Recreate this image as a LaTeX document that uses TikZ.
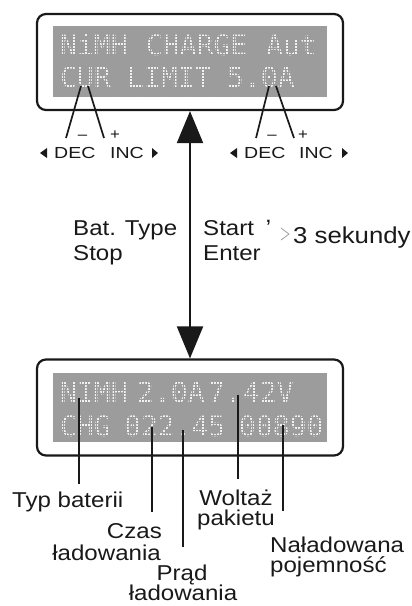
\documentclass[tikz,border=0pt]{standalone}
\usepackage{fontspec}
\setmainfont{Liberation Sans}
\newfontfamily\labfont[FakeStretch=1.12]{Liberation Sans}
\newfontfamily\keyfont[FakeStretch=1.22]{Liberation Sans}
\newfontfamily\lcdfont{DejaVu Sans Mono}
\usetikzlibrary{arrows.meta}
\definecolor{lcdgray}{RGB}{156,156,156}
\definecolor{lcdink}{RGB}{242,242,242}
\definecolor{ink}{RGB}{25,25,25}
\begin{document}
\begin{tikzpicture}[x=1pt,y=-1pt,
  frame/.style={draw=ink, line width=2.2pt, rounded corners=9pt,
    minimum width=306pt, minimum height=96pt, inner sep=0pt},
  lcdtext/.style={font=\lcdfont\fontsize{28}{28}\selectfont, text=lcdink,
    anchor=base west, inner sep=0pt},
  lab/.style={font=\labfont\fontsize{21.5}{21.5}\selectfont, text=ink, inner sep=0pt},
  biglab/.style={font=\labfont\fontsize{23}{23}\selectfont, text=ink, inner sep=0pt},
  keylab/.style={font=\keyfont\fontsize{16}{16}\selectfont, text=ink,
    inner sep=0pt, anchor=base west},
  signlab/.style={font=\labfont\fontsize{15}{15}\selectfont, text=ink, inner sep=0pt},
  callout/.style={draw=ink, line width=1.7pt},
  lcddots/.style={draw=lcdgray, line width=1pt},
  keymark/.style={fill=ink}
]
\useasboundingbox (0,0) rectangle (412,606);
\fill[white] (0,0) rectangle (412,606);

% ---------- upper display ----------
\node[frame] (topbox) at (190,62) {};
\fill[lcdgray] (53,26) rectangle (327,97);
\node[lcdtext] (t11) at (60,55) {NiMH};
\node[lcdtext] (t12) at (146,55) {CHARGE};
\node[lcdtext] (t13) at (266,55) {Aut};
\node[lcdtext] (t21) at (60,87) {CUR};
\node[lcdtext] (t22) at (127,87) {LIMIT};
\node[lcdtext] (t23) at (227,87) {5.0A};
\begin{scope}
  \clip (53,26) rectangle (327,97);
  \draw[lcddots, step=3pt] (53,26) grid (327,97);
\end{scope}

% ---------- lower display ----------
\node[frame] (botbox) at (190,407.5) {};
\fill[lcdgray] (53,373) rectangle (327,442);
\node[lcdtext] (b11) at (60,402) {NIMH};
\node[lcdtext] (b12) at (137,402) {2.0A};
\node[lcdtext] (b13) at (208,402) {7.};
\node[lcdtext] (b14) at (243,402) {42V};
\node[lcdtext] (b21) at (60,436) {CHG};
\node[lcdtext] (b22) at (124,436) {022.45};
\node[lcdtext] (b23) at (239,436) {00890};
\begin{scope}
  \clip (53,373) rectangle (327,442);
  \draw[lcddots, step=3pt] (53,373) grid (327,442);
\end{scope}

% ---------- key hints under the upper display ----------
\coordinate (decAtop) at (81,86);  \coordinate (decAend) at (66,138);
\coordinate (incAtop) at (88,86);  \coordinate (incAend) at (104,138);
\coordinate (decBtop) at (269,86); \coordinate (decBend) at (256,138);
\coordinate (incBtop) at (276,86); \coordinate (incBend) at (294,138);
\draw[callout] (decAtop) -- (decAend);
\draw[callout] (incAtop) -- (incAend);
\draw[callout] (decBtop) -- (decBend);
\draw[callout] (incBtop) -- (incBend);

\fill[keymark] (40,153) -- (47,148) -- (47,158) -- cycle;
\node[keylab] (decA) at (54,158) {DEC};
\node[signlab] (minusA) at (82.5,137) {–};
\node[signlab] (plusA) at (115,135) {+};
\node[keylab] (incA) at (110,158) {INC};
\fill[keymark] (158,153) -- (152,148) -- (152,158) -- cycle;

\fill[keymark] (230,153) -- (237,148) -- (237,158) -- cycle;
\node[keylab] (decB) at (244,158) {DEC};
\node[signlab] (minusB) at (272,137) {–};
\node[signlab] (plusB) at (303,135) {+};
\node[keylab] (incB) at (299,158) {INC};
\fill[keymark] (348,153) -- (342,148) -- (342,158) -- cycle;

% ---------- switching between the two screens ----------
\draw[ink, line width=2pt,
  {Triangle[width=26pt,length=32pt]}-{Triangle[width=26pt,length=32pt]}]
  (topbox.south) -- (botbox.north);

\node[lab, anchor=base west] (bat) at (73,235) {Bat. Type};
\node[lab, anchor=base west] (stop) at (73,260) {Stop};
\node[lab, anchor=base west] (start) at (203,235) {Start};
\node[lab, anchor=base west] (enter) at (203,260) {Enter};
\node[lab, anchor=base west] (sep) at (265,222) {,};
\draw[gray!75, line width=0.8pt] (281,228) -- (289,234) -- (281,240);
\node[biglab, anchor=base west] (sek) at (293,243) {3 sekundy};

% ---------- field labels under the lower display ----------
\node[lab, anchor=base west] (typ) at (12,507) {Typ baterii};
\node[lab, anchor=base east] (czas1) at (162,538) {Czas};
\node[lab, anchor=base east] (czas2) at (161,560) {ładowania};
\node[lab, anchor=base] (prad1) at (182,580) {Prąd};
\node[lab, anchor=base] (prad2) at (183,600) {ładowania};
\node[lab, anchor=base] (wolt1) at (236,505) {Woltaż};
\node[lab, anchor=base] (wolt2) at (236,525) {pakietu};
\node[lab, anchor=base west] (nal1) at (270,552) {Naładowana};
\node[lab, anchor=base west] (nal2) at (270,572) {pojemność};

\coordinate (typp) at (79,398);
\coordinate (czasp) at (152,427);
\coordinate (pradp) at (183,430);
\coordinate (woltp) at (238,395);
\coordinate (nalp) at (283,425);
\draw[callout, shorten >=7pt] (typp) -- (typ.north -| typp);
\draw[callout, shorten >=11pt] (czasp) -- (czas1.north -| czasp);
\draw[callout, shorten >=17pt] (pradp) -- (prad1.north -| pradp);
\draw[callout, shorten >=10pt] (woltp) -- (wolt1.north -| woltp);
\draw[callout, shorten >=25pt] (nalp) -- (nal1.north -| nalp);
\end{tikzpicture}
\end{document}
